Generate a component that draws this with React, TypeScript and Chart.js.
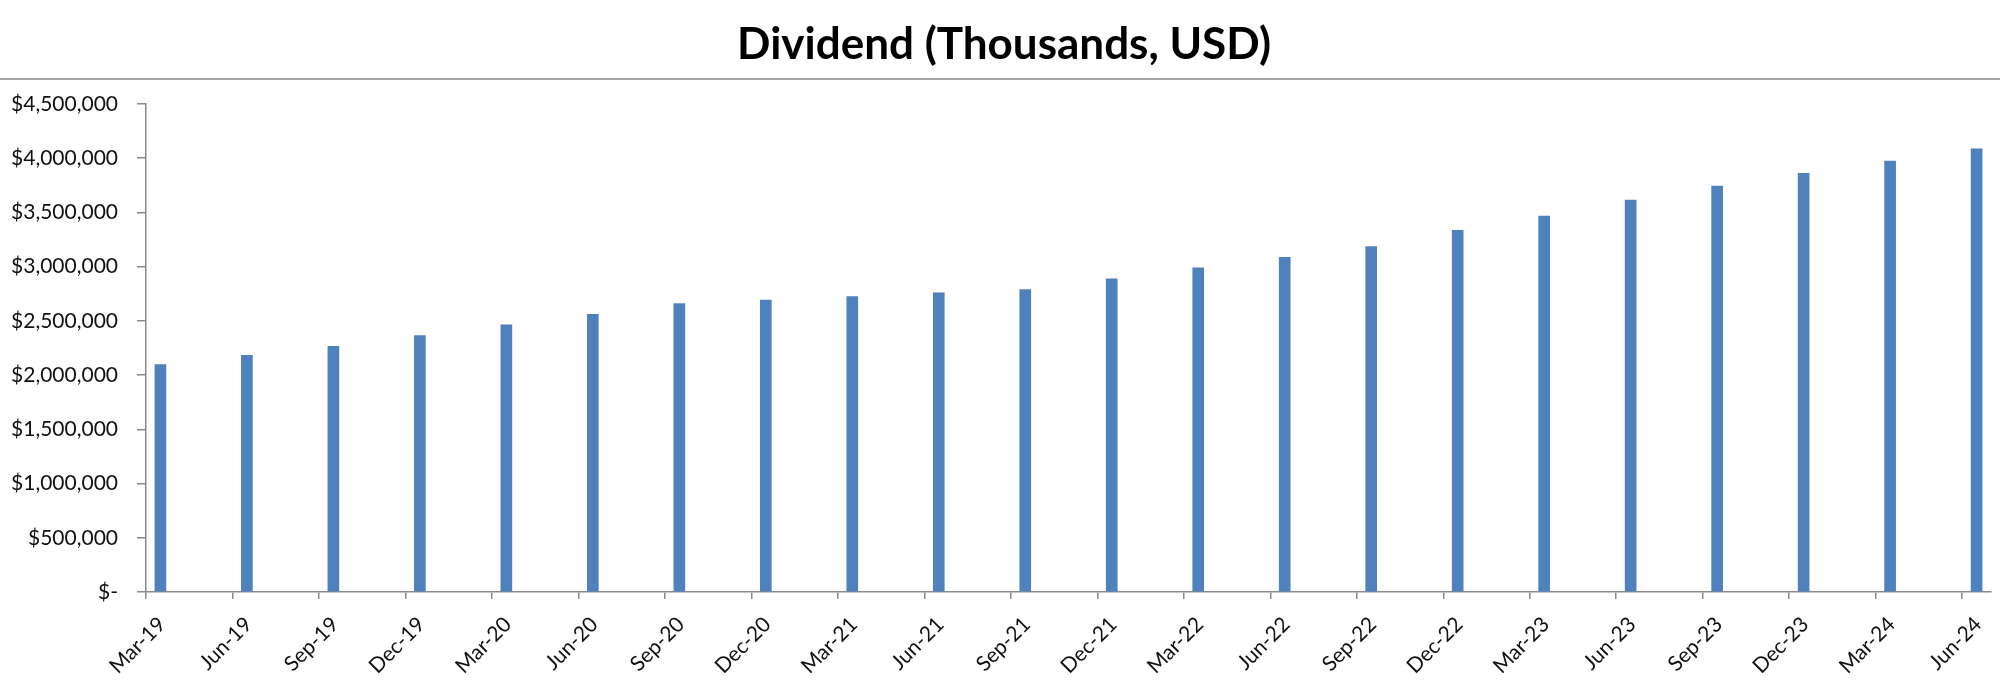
import React, { useEffect, useRef } from "react";
import { Chart, registerables } from "chart.js";

Chart.register(...registerables);

const TITLE = "Dividend (Thousands, USD)";

// Quarter-end labels (one bar per quarter)
const quarters = [
  "Mar-19", "Jun-19", "Sep-19", "Dec-19",
  "Mar-20", "Jun-20", "Sep-20", "Dec-20",
  "Mar-21", "Jun-21", "Sep-21", "Dec-21",
  "Mar-22", "Jun-22", "Sep-22", "Dec-22",
  "Mar-23", "Jun-23", "Sep-23", "Dec-23",
  "Mar-24", "Jun-24",
];

// Dividend values (thousands USD)
const dividends = [
  2098000, 2183000, 2266000, 2365000,
  2463000, 2561000, 2660000, 2693000,
  2725000, 2758000, 2789000, 2887000,
  2989000, 3087000, 3186000, 3334000,
  3466000, 3614000, 3743000, 3860000,
  3974000, 4087000,
];

const yMax = 4500000;
const yStep = 500000;
const MONTHS_PER_QUARTER = 3;

const BAR_COLOR = "#4F81BD";
const AXIS_COLOR = "#8a8a8a";

// Title text and the grey rule under it
const headerPlugin = {
  id: "header",
  beforeDraw(chart: any) {
    const { ctx, width } = chart;
    ctx.save();
    ctx.strokeStyle = "#a6a6a6";
    ctx.lineWidth = 2;
    ctx.beginPath();
    ctx.moveTo(0, 79);
    ctx.lineTo(width, 79);
    ctx.stroke();
    ctx.fillStyle = "#000000";
    ctx.font = "bold 44px Lato";
    ctx.textAlign = "center";
    ctx.textBaseline = "middle";
    ctx.fillText(TITLE, 1004, 45);
    ctx.restore();
  },
};

export default function App() {
  const canvasRef = useRef<HTMLCanvasElement | null>(null);

  useEffect(() => {
    const canvas = canvasRef.current;
    if (!canvas) return;
    const points = quarters.map((_, i) => ({
      x: i * MONTHS_PER_QUARTER + 0.5,
      y: dividends[i],
    }));
    const chart = new Chart(canvas, {
      type: "bar",
      data: {
        datasets: [
          {
            label: "Dividend",
            data: points as any,
            backgroundColor: BAR_COLOR,
            borderWidth: 0,
            barThickness: 11,
          },
        ],
      },
      plugins: [headerPlugin],
      options: {
        responsive: false,
        animation: false,
        devicePixelRatio: 1,
        layout: { padding: { left: 0, right: 9, top: 104, bottom: 0 } },
        plugins: {
          legend: { display: false },
          tooltip: { enabled: false },
          title: { display: false },
        },
        scales: {
          x: {
            type: "linear",
            offset: false,
            min: 0,
            max: (quarters.length - 1) * MONTHS_PER_QUARTER + 1,
            afterBuildTicks: (scale: any) => {
              scale.ticks = quarters.map((_, i) => ({ value: i * MONTHS_PER_QUARTER }));
            },
            afterFit: (scale: any) => {
              scale.height = 90;
            },
            grid: {
              offset: false,
              drawOnChartArea: false,
              drawTicks: true,
              tickLength: 7,
              color: AXIS_COLOR,
              lineWidth: 1.5,
            },
            border: { display: true, color: AXIS_COLOR, width: 1.5 },
            ticks: {
              autoSkip: false,
              maxRotation: 45,
              minRotation: 45,
              padding: 13,
              labelOffset: 16,
              color: "#111111",
              font: { family: "Lato", size: 21 },
              callback: (_v: any, index: number) => quarters[index],
            },
          },
          y: {
            min: 0,
            max: yMax,
            afterFit: (scale: any) => {
              scale.width = 146;
            },
            grid: {
              drawOnChartArea: false,
              drawTicks: true,
              tickLength: 9,
              color: AXIS_COLOR,
              lineWidth: 1.5,
            },
            border: { display: true, color: AXIS_COLOR, width: 1.5 },
            ticks: {
              stepSize: yStep,
              padding: 19,
              color: "#111111",
              font: { family: "Lato", size: 21 },
              callback: (v: any) =>
                Number(v) === 0 ? "$-" : "$" + Number(v).toLocaleString("en-US"),
            },
          },
        },
      },
    });
    return () => chart.destroy();
  }, []);

  return (
    <div style={{ position: "fixed", left: 0, top: 0, width: 2000, height: 682, background: "#fff" }}>
      <canvas ref={canvasRef} width={2000} height={682} style={{ display: "block" }} />
    </div>
  );
}
